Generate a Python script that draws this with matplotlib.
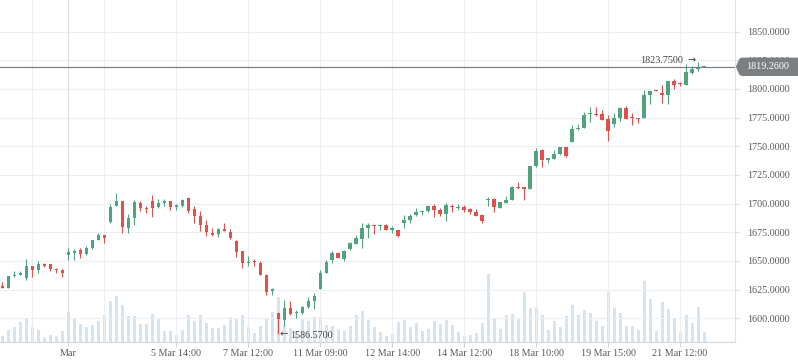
import matplotlib
matplotlib.use("Agg")
import matplotlib.pyplot as plt
from matplotlib.path import Path
from matplotlib.patches import PathPatch
from matplotlib.transforms import IdentityTransform

plt.rcParams['font.family'] = ['Liberation Serif', 'DejaVu Serif', 'DejaVu Sans']

# ---------------- data ----------------
opens = [1628.1, 1626.7, 1636.8, 1638.0, 1635.4, 1645.5, 1642.0, 1647.0, 1647.0, 1642.6,
         1642.0, 1655.1, 1657.1, 1659.4, 1656.2, 1661.4, 1668.7, 1672.5, 1684.1, 1698.0,
         1702.0, 1679.1, 1687.5, 1700.9, 1696.5, 1702.0, 1697.1, 1700.6, 1702.0, 1697.4,
         1697.7, 1705.2, 1695.1, 1689.0, 1681.2, 1674.5, 1673.3, 1677.7, 1675.4, 1667.2,
         1658.8, 1647.8, 1649.9, 1648.4, 1637.7, 1623.8, 1604.3, 1598.6, 1609.3, 1604.9,
         1604.9, 1610.1, 1615.4, 1625.5, 1639.7, 1650.7, 1657.1, 1651.6, 1660.3, 1665.2,
         1669.0, 1678.8, 1681.2, 1680.3, 1681.7, 1677.4, 1677.4, 1683.2, 1685.5, 1689.9,
         1692.8, 1693.6, 1698.0, 1694.8, 1691.3, 1698.0, 1696.2, 1697.1, 1695.1, 1692.8,
         1689.9, 1703.5, 1704.3, 1696.5, 1700.9, 1703.2, 1714.2, 1714.2, 1712.8, 1732.8,
         1746.7, 1738.0, 1738.8, 1743.2, 1749.0, 1753.5, 1765.0, 1766.1, 1778.0, 1778.0,
         1778.0, 1774.0, 1769.6, 1774.5, 1783.5, 1775.7, 1774.8, 1774.2, 1795.1, 1799.4,
         1796.5, 1794.5, 1806.7, 1805.2, 1803.8, 1813.9, 1817.7, 1819.26]
highs = [1631.3, 1636.8, 1641.2, 1641.2, 1651.6, 1645.5, 1649.9, 1648.1, 1647.0, 1643.8,
         1642.6, 1660.9, 1660.3, 1661.4, 1662.9, 1668.7, 1674.2, 1672.5, 1699.4, 1709.3,
         1702.0, 1691.3, 1702.9, 1702.0, 1697.7, 1707.2, 1704.3, 1704.3, 1702.0, 1699.4,
         1704.3, 1705.8, 1697.7, 1693.3, 1685.5, 1679.1, 1678.8, 1683.2, 1677.7, 1668.7,
         1658.8, 1654.2, 1651.3, 1649.9, 1638.3, 1626.1, 1604.3, 1615.9, 1615.1, 1607.2,
         1611.0, 1618.8, 1621.7, 1642.0, 1650.7, 1658.8, 1658.0, 1659.4, 1666.7, 1672.5,
         1683.5, 1683.2, 1681.2, 1682.6, 1682.6, 1680.3, 1677.4, 1690.4, 1691.3, 1696.2,
         1694.8, 1699.1, 1699.4, 1696.2, 1700.9, 1699.4, 1699.4, 1698.6, 1696.2, 1695.1,
         1691.3, 1705.8, 1705.2, 1701.4, 1706.7, 1715.4, 1719.1, 1714.2, 1732.8, 1748.1,
         1747.5, 1739.4, 1746.7, 1749.6, 1749.0, 1768.7, 1769.2, 1780.0, 1784.5, 1784.3,
         1781.4, 1777.4, 1779.0, 1784.6, 1785.4, 1779.1, 1774.8, 1799.4, 1798.0, 1799.4,
         1803.8, 1806.7, 1809.0, 1806.1, 1822.0, 1819.7, 1823.75, 1819.26]
lows = [1626.7, 1626.7, 1635.9, 1638.0, 1633.6, 1635.9, 1639.7, 1644.9, 1641.4, 1639.7,
        1636.2, 1650.7, 1650.7, 1652.8, 1655.6, 1660.3, 1668.7, 1665.8, 1683.5, 1698.0,
        1674.5, 1674.8, 1681.4, 1693.6, 1692.2, 1688.4, 1696.5, 1698.0, 1694.8, 1694.8,
        1697.1, 1692.2, 1683.2, 1676.2, 1671.9, 1671.9, 1671.0, 1675.9, 1669.0, 1653.6,
        1644.1, 1645.8, 1645.8, 1637.7, 1620.3, 1620.3, 1586.57, 1593.6, 1602.9, 1600.0,
        1603.5, 1609.3, 1608.1, 1625.5, 1639.7, 1648.4, 1652.8, 1649.9, 1659.4, 1664.6,
        1660.9, 1670.4, 1673.9, 1677.4, 1677.4, 1674.5, 1671.0, 1678.8, 1683.2, 1689.3,
        1689.9, 1692.8, 1688.4, 1689.0, 1684.9, 1692.8, 1694.8, 1692.8, 1691.3, 1689.0,
        1683.5, 1697.7, 1693.0, 1696.5, 1700.9, 1703.2, 1712.8, 1703.2, 1712.8, 1732.2,
        1732.2, 1735.7, 1738.6, 1742.3, 1740.9, 1753.5, 1764.1, 1766.1, 1771.5, 1776.2,
        1772.8, 1755.0, 1767.2, 1771.6, 1773.9, 1768.7, 1770.7, 1774.2, 1787.0, 1798.0,
        1787.8, 1786.4, 1800.3, 1802.3, 1803.8, 1813.0, 1815.4, 1819.26]
closes = [1626.7, 1636.8, 1638.0, 1639.7, 1645.5, 1642.0, 1647.0, 1645.8, 1642.9, 1641.7,
          1639.7, 1657.7, 1658.3, 1656.2, 1661.4, 1668.7, 1672.5, 1669.6, 1697.1, 1702.0,
          1679.7, 1687.5, 1701.4, 1696.2, 1695.4, 1696.2, 1700.6, 1702.0, 1697.1, 1698.6,
          1703.5, 1693.3, 1689.3, 1681.2, 1675.4, 1672.5, 1677.7, 1675.9, 1670.1, 1658.0,
          1648.4, 1649.3, 1648.7, 1637.7, 1623.2, 1625.2, 1599.1, 1609.3, 1603.5, 1605.8,
          1610.1, 1615.4, 1619.7, 1639.7, 1649.3, 1657.1, 1652.8, 1658.6, 1665.8, 1670.1,
          1678.8, 1681.7, 1680.3, 1681.2, 1677.4, 1678.3, 1671.9, 1685.5, 1689.3, 1692.8,
          1693.6, 1698.0, 1694.8, 1690.7, 1698.6, 1697.1, 1697.1, 1694.8, 1692.8, 1689.3,
          1684.9, 1704.3, 1696.8, 1701.4, 1703.2, 1714.8, 1713.3, 1712.8, 1732.8, 1746.1,
          1738.0, 1739.4, 1743.2, 1749.0, 1741.7, 1765.0, 1766.1, 1777.4, 1779.4, 1777.1,
          1773.2, 1763.0, 1774.5, 1783.5, 1773.9, 1774.8, 1773.9, 1795.1, 1798.0, 1798.0,
          1794.5, 1806.7, 1803.8, 1804.3, 1814.8, 1817.7, 1819.3, 1819.26]
volumes = [6.3, 12.3, 15.3, 20.3, 23.7, 15.3, 12.3, 5.3, 7.3, 6.3,
           11.3, 30.3, 23.7, 18.3, 15.3, 17.3, 21.3, 27.3, 41.3, 46.3,
           37.3, 26.3, 26.3, 18.3, 18.3, 28.3, 23.7, 11.3, 11.3, 7.3,
           12.3, 27.3, 21.3, 27.3, 19.3, 14.3, 14.3, 17.3, 25.3, 24.3,
           27.3, 15.3, 9.3, 16.3, 24.3, 30.3, 45.3, 17.3, 14.3, 11.3,
           22.3, 21.3, 25.3, 25.3, 17.3, 16.3, 13.3, 11.3, 16.3, 27.3,
           31.3, 22.3, 15.3, 10.3, 6.3, 8.3, 20.3, 22.3, 15.3, 19.3,
           11.3, 13.3, 21.3, 18.3, 22.3, 17.3, 10.3, 6.3, 7.3, 9.3,
           19.3, 68.3, 23.3, 13.3, 27.3, 28.3, 24.3, 50.3, 34.3, 35.3,
           27.3, 12.3, 21.3, 15.3, 26.3, 37.3, 27.3, 32.3, 29.3, 21.3,
           16.3, 50.3, 34.3, 29.3, 16.3, 16.3, 12.3, 61.3, 43.3, 11.3,
           40.3, 33.3, 23.3, 10.3, 27.3, 19.3, 35.3, 10.3]

tick_positions = [11, 29, 41, 53, 65, 77, 89, 101, 113]
tick_labels = ["Mar", "5 Mar 14:00", "7 Mar 12:00", "11 Mar 09:00", "12 Mar 14:00",
               "14 Mar 12:00", "18 Mar 10:00", "19 Mar 15:00", "21 Mar 12:00"]
minor_grid_positions = [5, 17]
price_ticks = [1600, 1625, 1650, 1675, 1700, 1725, 1750, 1775, 1800, 1825, 1850]
last_price = 1819.26
high_point = (116, 1823.75)
low_point = (46, 1586.57)

# ---------------- style ----------------
GREEN = '#50a37d'
RED = '#e0504d'
VOL = '#d6e4f0'
GRID = '#eceef1'
FS = 7.3
W, H = 798, 363

fig = plt.figure(figsize=(W / 100, H / 100), dpi=100)
fig.patch.set_facecolor('white')
rect = [0, 20.7 / H, 735 / W, 342.3 / H]
axv = fig.add_axes(rect, zorder=0)
ax = fig.add_axes(rect, zorder=1, sharex=axv)
ax.patch.set_visible(False)

n = len(opens)
idx = list(range(n))

# volume
axv.bar(idx, volumes, width=0.5, color=VOL, linewidth=0)
axv.set_ylim(0, 342.3)
axv.set_axis_off()

# grid
for p in price_ticks:
    ax.axhline(p, color=GRID, lw=0.8, zorder=0.5)
for x in minor_grid_positions + tick_positions:
    ax.axvline(x, color=('#dde1e5' if x == 11 else GRID), lw=0.8, zorder=0.5)

# candles
cols = [GREEN if c >= o else RED for o, c in zip(opens, closes)]
ax.vlines(idx, lows, highs, colors=cols, lw=0.8, zorder=2)
bottoms = [min(o, c) for o, c in zip(opens, closes)]
heights = [max(abs(c - o), 0.9) for o, c in zip(opens, closes)]
ax.bar(idx, heights, bottom=bottoms, width=0.58, color=cols, linewidth=0, zorder=3)

ax.axhline(last_price, color='#787c7f', lw=0.85, zorder=4)

ax.set_xlim(-0.4, 122.16)
ax.set_ylim(1579.08, 1877.5)

# axes styling
for s in ['top', 'left']:
    ax.spines[s].set_visible(False)
ax.spines['bottom'].set_color('#d3d7db')
ax.spines['right'].set_color('#dfe2e6')
ax.spines['bottom'].set_linewidth(0.8)
ax.spines['right'].set_linewidth(0.8)
ax.yaxis.tick_right()
ax.set_yticks(price_ticks)
ax.set_yticklabels([f"{p:.4f}" for p in price_ticks])
ax.set_xticks(tick_positions)
ax.set_xticklabels(tick_labels)
ax.tick_params(axis='y', length=3.6, width=0.8, color='#e3e6e9', pad=4.8,
               labelsize=FS, labelcolor='#5a5a5a')
ax.tick_params(axis='x', length=3.6, width=0.8, color='#d3d7db', pad=1.5,
               labelsize=FS, labelcolor='#5a5a5a')

# annotations (number in serif, arrow in DejaVu Sans)
ANN = '#444444'
ax.annotate(f"{high_point[1]:.4f}", xy=high_point, xytext=(-10.6, 0.6),
            textcoords='offset points', ha='right', va='center',
            fontsize=FS, color=ANN, zorder=6)
ax.annotate("\u2192", xy=high_point, xytext=(-2.0, 1.2),
            textcoords='offset points', ha='right', va='center',
            fontsize=7, color=ANN, family='DejaVu Sans', zorder=6)
ax.annotate("\u2190", xy=low_point, xytext=(0.8, -0.4),
            textcoords='offset points', ha='left', va='center',
            fontsize=7, color=ANN, family='DejaVu Sans', zorder=6)
ax.annotate(f"{low_point[1]:.4f}", xy=low_point, xytext=(8.5, -1.0),
            textcoords='offset points', ha='left', va='center',
            fontsize=FS, color=ANN, zorder=6)

# last price label
x0 = ax.transAxes.transform((1, 0))[0]
yc = ax.transData.transform((0, last_price))[1]
hh = 9.2
verts = [(x0 + 0.8, yc), (x0 + 4.5, yc + hh - 1), (x0 + 7, yc + hh), (W + 5, yc + hh),
         (W + 5, yc - hh), (x0 + 7, yc - hh), (x0 + 4.5, yc - hh + 1), (x0 + 0.8, yc)]
codes = [Path.MOVETO] + [Path.LINETO] * 6 + [Path.CLOSEPOLY]
patch = PathPatch(Path(verts, codes), transform=IdentityTransform(),
                  facecolor='#7b7f81', edgecolor='none', zorder=10)
fig.add_artist(patch)
fig.text((x0 + 11.5) / W, yc / H, f"{last_price:.4f}", color='white',
         fontsize=FS, ha='left', va='center', zorder=11)

fig.savefig('out.png', dpi=100)
